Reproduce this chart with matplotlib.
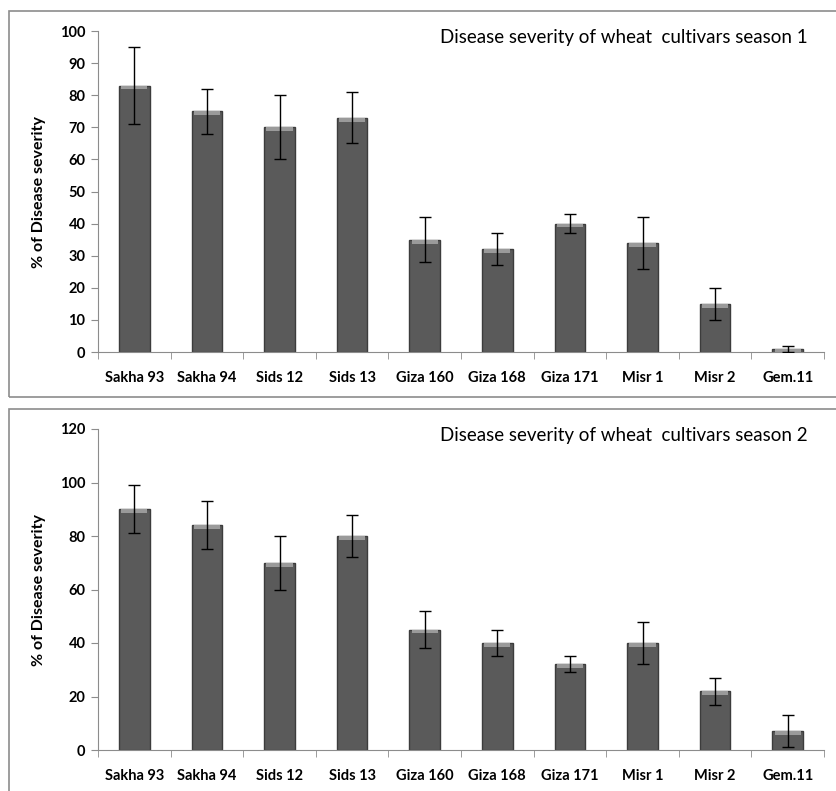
import matplotlib
matplotlib.use("Agg")
import matplotlib.pyplot as plt
from matplotlib.patches import Rectangle
import numpy as np

plt.rcParams['font.family'] = ['Lato', 'DejaVu Sans']

cultivars = ['Sakha 93', 'Sakha 94', 'Sids 12', 'Sids 13', 'Giza 160',
             'Giza 168', 'Giza 171', 'Misr 1', 'Misr 2', 'Gem.11']

season1 = [83, 75, 70, 73, 35, 32, 40, 34, 15, 1]
season1_err = [12, 7, 10, 8, 7, 5, 3, 8, 5, 1]

season2 = [90, 84, 70, 80, 45, 40, 32, 40, 22, 7]
season2_err = [9, 9, 10, 8, 7, 5, 3, 8, 5, 6]

W, H = 836, 791
fig = plt.figure(figsize=(W / 100, H / 100), dpi=100)

# panel frames (pixel boxes converted to figure fraction)
for x0, y0, x1, y1 in [(9, 11, 840, 397), (9, 409, 840, 800)]:
    fig.patches.append(Rectangle((x0 / W, 1 - y1 / H), (x1 - x0) / W, (y1 - y0) / H,
                                 transform=fig.transFigure, fill=False,
                                 edgecolor='#8c8c8c', lw=1.2))


def draw_panel(ax, vals, errs, ymax, step, title):
    x = np.arange(len(cultivars))
    vals = np.array(vals, dtype=float)
    ax.bar(x, vals, width=0.42, color='#5a5a5a', edgecolor='#3c3c3c', linewidth=1.0, zorder=2)
    # light sheen at the top of each bar
    sheen = np.minimum(ymax * 0.012, vals)
    ax.bar(x, sheen, bottom=vals - sheen, width=0.36, color='#9a9a9a', linewidth=0, zorder=3)
    ax.errorbar(x, vals, yerr=errs, fmt='none', ecolor='black', elinewidth=1,
                capsize=4, capthick=1, zorder=4)
    ax.set_xlim(-0.5, len(cultivars) - 0.5)
    ax.set_ylim(0, ymax)
    ax.set_yticks(np.arange(0, ymax + 1, step))
    ax.set_xticks(x)
    ax.set_xticklabels(cultivars, fontweight='bold', fontsize=10.5)
    ax.set_xticks(np.arange(-0.5, len(cultivars)), minor=True)
    ax.tick_params(axis='x', which='major', length=0, pad=14)
    ax.tick_params(axis='x', which='minor', length=5, color='#8c8c8c', direction='out')
    ax.tick_params(axis='y', length=5, color='#8c8c8c', labelsize=10.5, pad=4)
    for lab in ax.get_yticklabels():
        lab.set_fontweight('bold')
    for s in ['top', 'right']:
        ax.spines[s].set_visible(False)
    for s in ['left', 'bottom']:
        ax.spines[s].set_color('#8c8c8c')
    ax.set_ylabel('% of Disease severity', fontweight='bold', fontsize=11.5, labelpad=10)
    ax.text(0.7245, 0.981, title, transform=ax.transAxes, ha='center', va='center',
            fontsize=13.5)


ax1 = fig.add_axes([98 / W, 1 - 352 / H, (824 - 98) / W, (352 - 31) / H])
draw_panel(ax1, season1, season1_err, 100, 10, 'Disease severity of wheat  cultivars season 1')

ax2 = fig.add_axes([98 / W, 1 - 750 / H, (824 - 98) / W, (750 - 429) / H])
draw_panel(ax2, season2, season2_err, 120, 20, 'Disease severity of wheat  cultivars season 2')

fig.savefig('out.png', dpi=100)
